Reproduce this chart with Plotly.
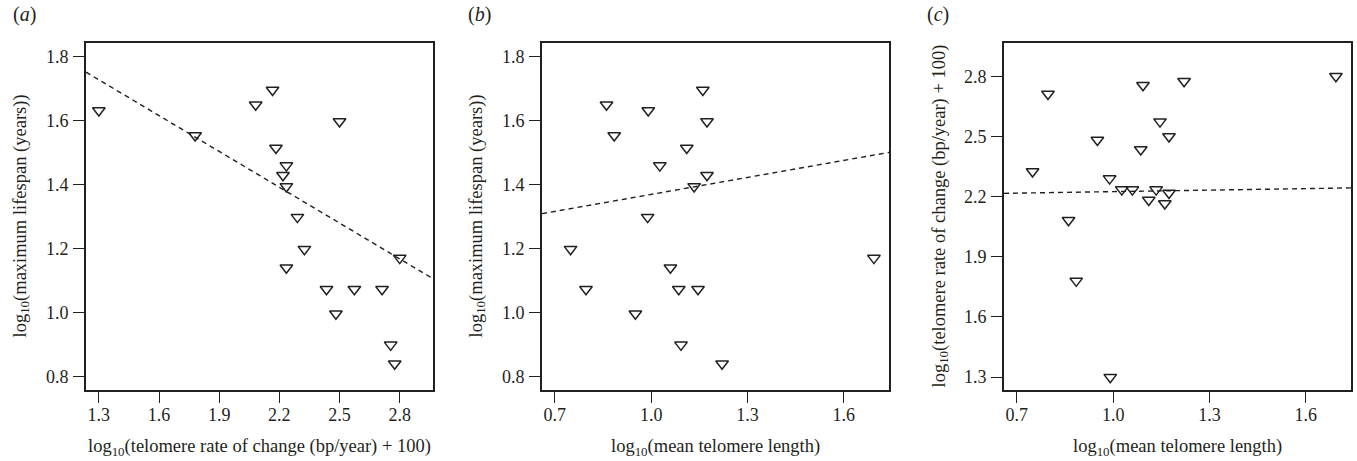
import plotly.graph_objects as go

# Species data
lifespan = [1.632, 1.554, 1.650, 1.696, 1.598, 1.515, 1.460, 1.430, 1.395, 1.299,
            1.199, 1.141, 1.074, 1.074, 1.074, 0.997, 1.171, 0.900, 0.841]
rate = [1.30, 1.78, 2.082, 2.166, 2.50, 2.183, 2.235, 2.218, 2.235, 2.29,
        2.325, 2.235, 2.712, 2.435, 2.574, 2.482, 2.80, 2.755, 2.775]
length = [0.991, 0.885, 0.861, 1.161, 1.174, 1.111, 1.027, 1.174, 1.134, 0.989,
          0.749, 1.060, 0.797, 1.086, 1.146, 0.951, 1.694, 1.093, 1.221]

# Fitted lines (intercept, slope)
fit_a = [2.213, -0.373]
fit_b = [1.193, 0.177]
fit_c = [2.200, 0.025]

ticks_life = [0.8, 1.0, 1.2, 1.4, 1.6, 1.8]
ticks_rate = [1.3, 1.6, 1.9, 2.2, 2.5, 2.8]
ticks_len = [0.7, 1.0, 1.3, 1.6]

range_life = [0.759, 1.843]
range_rate = [1.236, 2.966]
range_len = [0.660, 1.741]

panel_labels = ["(<i>a</i>)", "(<i>b</i>)", "(<i>c</i>)"]
xtitles = ["log<sub>10</sub>(telomere rate of change (bp/year) + 100)",
           "log<sub>10</sub>(mean telomere length)",
           "log<sub>10</sub>(mean telomere length)"]
ytitles = ["log<sub>10</sub>(maximum lifespan (years))",
           "log<sub>10</sub>(maximum lifespan (years))",
           "log<sub>10</sub>(telomere rate of change (bp/year) + 100)"]

W, H = 1357, 461
FONT = "Liberation Serif, Times New Roman, serif"
INK = "#231f20"

panels = [
    dict(x=rate, y=lifespan, fit=fit_a, xr=range_rate, yr=range_life, xt=ticks_rate, yt=ticks_life,
         xd=[86 / W, 433 / W]),
    dict(x=length, y=lifespan, fit=fit_b, xr=range_len, yr=range_life, xt=ticks_len, yt=ticks_life,
         xd=[542 / W, 889 / W]),
    dict(x=length, y=rate, fit=fit_c, xr=range_len, yr=range_rate, xt=ticks_len, yt=ticks_rate,
         xd=[1004 / W, 1351 / W]),
]
ydom = [1 - 390 / H, 1 - 43 / H]

fig = go.Figure()
layout = dict(width=W, height=H, margin=dict(l=0, r=0, t=0, b=0),
              paper_bgcolor="white", plot_bgcolor="white", showlegend=False,
              font=dict(family=FONT, size=18, color=INK))
annotations = []
ylab_x = [21, 477, 940]
plab_x = [11, 466, 925]
for i, p in enumerate(panels):
    n = "" if i == 0 else str(i + 1)
    xa, ya = "x" + n, "y" + n
    fig.add_trace(go.Scatter(
        x=p["x"], y=p["y"], mode="markers", xaxis=xa, yaxis=ya,
        marker=dict(symbol="triangle-down-open", size=11, color=INK, line=dict(width=1.5, color=INK)),
        hoverinfo="skip"))
    b0, b1 = p["fit"]
    fx = [p["xr"][0], p["xr"][1]]
    fy = [b0 + b1 * v for v in fx]
    fig.add_trace(go.Scatter(
        x=fx, y=fy, mode="lines", xaxis=xa, yaxis=ya,
        line=dict(color=INK, width=1.4, dash="5px,4px"), hoverinfo="skip"))
    common = dict(showline=True, mirror=True, linecolor=INK, linewidth=1.6,
                  ticks="outside", ticklen=11, tickwidth=1.2, tickcolor=INK,
                  showgrid=False, zeroline=False,
                  tickfont=dict(family=FONT, size=18, color=INK))
    layout["xaxis" + n] = dict(common, domain=p["xd"], range=p["xr"], tickvals=p["xt"],
                               ticktext=["%.1f" % v for v in p["xt"]], anchor=ya,
                               ticklabelstandoff=-3)
    layout["yaxis" + n] = dict(common, domain=ydom, range=p["yr"], tickvals=p["yt"],
                               ticktext=["%.1f" % v for v in p["yt"]], anchor=xa,
                               ticklabelstandoff=1)
    annotations.append(dict(text=panel_labels[i], x=plab_x[i] / W,
                            y=1 - 15 / H, xref="paper", yref="paper", showarrow=False,
                            xanchor="left", yanchor="middle", font=dict(size=20, family=FONT, color=INK)))
    annotations.append(dict(text=xtitles[i], x=(p["xd"][0] + p["xd"][1]) / 2, y=0,
                            xref="paper", yref="paper", showarrow=False, xanchor="center",
                            yanchor="bottom", font=dict(size=18.5, family=FONT, color=INK)))
    annotations.append(dict(text=ytitles[i], x=ylab_x[i] / W, y=(ydom[0] + ydom[1]) / 2,
                            xref="paper", yref="paper", showarrow=False, textangle=-90,
                            xanchor="center", yanchor="middle", font=dict(size=18.5, family=FONT, color=INK)))
layout["annotations"] = annotations
fig.update_layout(**layout)
fig.write_html("out.html", config={"displayModeBar": False},
               post_script="document.body.style.margin='0';document.body.style.overflow='hidden';")
